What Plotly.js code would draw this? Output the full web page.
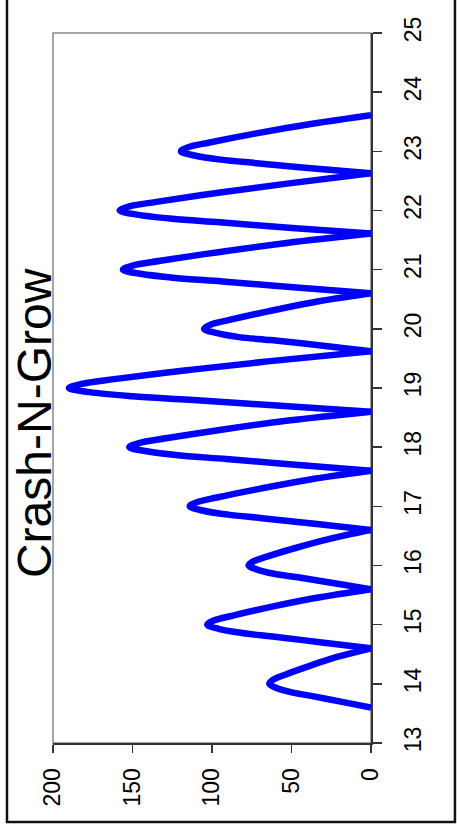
<!DOCTYPE html>
<html>
<head>
<meta charset="utf-8">
<script src="https://cdn.plot.ly/plotly-3.0.1.min.js"></script>
<style>
  html, body { margin: 0; padding: 0; background: #ffffff; }
  #chart { width: 457px; height: 831px; }
</style>
</head>
<body>
<div id="chart"></div>
<script>
// Time (hours) along the rotated axis
const timeHours = [
  13.6, 13.7, 13.8, 13.86, 13.93, 14.0, 14.07, 14.15, 14.3, 14.45,
  14.6, 14.7, 14.8, 14.86, 14.93, 15.0, 15.07, 15.15, 15.3, 15.45,
  15.6, 15.7, 15.8, 15.86, 15.93, 16.0, 16.07, 16.15, 16.3, 16.45,
  16.6, 16.7, 16.8, 16.86, 16.93, 17.0, 17.07, 17.15, 17.3, 17.45,
  17.6, 17.7, 17.8, 17.86, 17.93, 18.0, 18.07, 18.15, 18.3, 18.45,
  18.6, 18.7, 18.8, 18.86, 18.93, 19.0, 19.07, 19.15, 19.3, 19.45,
  19.62, 19.72, 19.81, 19.86, 19.93, 20.0, 20.07, 20.15, 20.3, 20.45,
  20.6, 20.7, 20.8, 20.86, 20.93, 21.0, 21.07, 21.15, 21.3, 21.45,
  21.61, 21.7, 21.8, 21.86, 21.93, 22.0, 22.07, 22.15, 22.3, 22.45,
  22.63, 22.71, 22.8, 22.86, 22.93, 23.0, 23.07, 23.15, 23.3, 23.47,
  23.61
];
// Signal values
const signal = [
  0, 19, 38.5, 50.5, 59.5, 64, 61.5, 54.5, 39, 22,
  0, 31, 62, 81, 96, 103, 99, 87.5, 63, 35,
  0, 23, 46, 61, 71.5, 77, 74, 65.5, 47, 26,
  0, 34, 68.5, 90, 106, 114, 109.5, 97, 69.5, 39,
  0, 45.5, 91, 120, 141, 152, 146, 129, 93, 52,
  0, 57, 114, 150, 177, 190, 182, 161.5, 116, 65,
  0, 31.5, 63, 83, 97.5, 105, 101, 89, 64, 36,
  0, 47, 93.5, 123, 145, 156, 150, 132.5, 95, 53,
  0, 47.5, 95, 125, 147, 158, 152, 134, 96, 54,
  0, 36, 72, 94.5, 111, 119.5, 115, 101.5, 73, 36,
  0
];
const valueTicks = [0, 50, 100, 150, 200];
const valueTickText = ['0', '50', '100', '150', '200'];
const timeTicks = [13, 14, 15, 16, 17, 18, 19, 20, 21, 22, 23, 24, 25];
const timeTickText = ['13','14','15','16','17','18','19','20','21','22','23','24','25'];
const chartTitle = 'Crash-N-Grow';

const FONT = '"Liberation Sans", Arial, Helvetica, sans-serif';

// Split the series into one segment per bump (zero to zero) so each
// zero touch keeps its sharp tip while the peaks stay smooth.
const traces = [];
let segX = [], segY = [];
for (let i = 0; i < signal.length; i++) {
  segX.push(signal[i]);
  segY.push(timeHours[i]);
  if (signal[i] === 0 && segX.length > 1) {
    traces.push({
      type: 'scatter', mode: 'lines', x: segX, y: segY,
      line: { color: '#0000ff', width: 6.5, shape: 'spline', smoothing: 1 },
      hoverinfo: 'skip', showlegend: false
    });
    segX = [signal[i]];
    segY = [timeHours[i]];
  }
}

const layout = {
  width: 457,
  height: 831,
  margin: { l: 53, r: 86, t: 33, b: 88, pad: 0 },
  paper_bgcolor: '#ffffff',
  plot_bgcolor: '#ffffff',
  showlegend: false,
  font: { family: FONT, color: '#000000', size: 23 },
  xaxis: {
    range: [200, 0],
    tickvals: valueTicks,
    ticktext: valueTickText,
    tickangle: -90,
    ticks: 'outside',
    ticklen: 8,
    tickwidth: 1.5,
    tickcolor: '#333333',
    showline: true,
    linecolor: '#333333',
    linewidth: 2,
    showgrid: false,
    zeroline: false,
    ticklabelstandoff: 6,
    tickfont: { family: FONT, size: 23, color: '#000000' }
  },
  yaxis: {
    range: [13, 25],
    side: 'right',
    tickvals: timeTicks,
    ticktext: timeTickText,
    tickangle: -90,
    ticks: 'outside',
    ticklen: 9,
    tickwidth: 1.5,
    tickcolor: '#333333',
    showline: true,
    linecolor: '#333333',
    linewidth: 2,
    showgrid: false,
    zeroline: false,
    ticklabelstandoff: 11,
    tickfont: { family: FONT, size: 23, color: '#000000' }
  },
  shapes: [
    { type: 'rect', xref: 'paper', yref: 'paper', x0: 0, x1: 1, y0: 0, y1: 1,
      line: { color: '#888888', width: 1.5 }, fillcolor: 'rgba(0,0,0,0)', layer: 'below' },
    { type: 'rect', xref: 'paper', yref: 'paper',
      x0: -0.1447, x1: 1.264, y0: -0.1113, y1: 1.08,
      line: { color: '#111111', width: 2.5 }, fillcolor: 'rgba(0,0,0,0)', layer: 'above' }
  ],
  annotations: [
    { text: chartTitle, xref: 'paper', yref: 'paper', x: 0.03, y: 0.4507,
      xanchor: 'right', yanchor: 'middle', textangle: -90, showarrow: false,
      font: { family: FONT, size: 48, color: '#000000' } }
  ]
};

Plotly.newPlot('chart', traces, layout, { displayModeBar: false, staticPlot: true });
</script>
</body>
</html>
